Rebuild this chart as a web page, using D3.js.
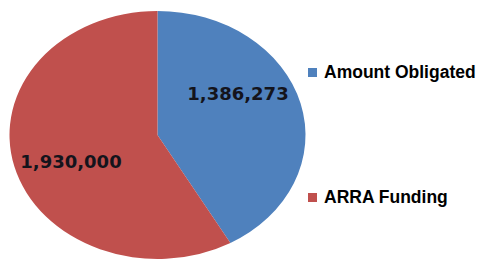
<!DOCTYPE html>
<html>
<head>
<meta charset="utf-8">
<script src="https://cdn.jsdelivr.net/npm/d3@7"></script>
<style>
  body { margin: 0; background: #fff; }
</style>
</head>
<body>
<script>
var categories = ["Amount Obligated", "ARRA Funding"];
var values = [1386273, 1930000];
var colors = ["#4F81BD", "#C0504D"];

var width = 477, height = 262;

var svg = d3.select("body")
    .append("svg")
    .attr("width", width)
    .attr("height", height);

// pie is drawn as circle then squashed into an ellipse like the original
var rx = 148, ry = 124;
var cx = 157.5, cy = 135;

var pie = d3.pie().sort(null).value(function (d) { return d; });
var arc = d3.arc().innerRadius(0).outerRadius(rx);
var arcs = pie(values);

var g = svg.append("g")
    .attr("transform", "translate(" + cx + "," + cy + ") scale(1," + (ry / rx) + ")");

g.selectAll("path")
    .data(arcs)
    .enter().append("path")
    .attr("d", arc)
    .style("fill", function (d, i) { return colors[i]; });

// value labels
var fmt = d3.format(",");
svg.selectAll("text.val")
    .data(arcs)
    .enter().append("text")
    .attr("class", "val")
    .attr("x", function (d, i) { return i == 0 ? 238 : 71; })
    .attr("y", function (d, i) { return i == 0 ? 100 : 168; })
    .attr("text-anchor", "middle")
    .style("font-family", "DejaVu Sans")
    .style("font-weight", "bold")
    .style("font-size", "18px")
    .style("fill", "#14141c")
    .text(function (d) { return fmt(d.value); });

// legend
var legendY = [72, 197];
var legend = svg.selectAll("g.legend")
    .data(categories)
    .enter().append("g")
    .attr("class", "legend")
    .attr("transform", function (d, i) { return "translate(308," + legendY[i] + ")"; });

legend.append("rect")
    .attr("x", 0)
    .attr("y", -4)
    .attr("width", 9)
    .attr("height", 9)
    .style("fill", function (d, i) { return colors[i]; });

legend.append("text")
    .attr("x", 16)
    .attr("y", 6)
    .style("font-family", "Liberation Sans, Arial")
    .style("font-weight", "bold")
    .style("font-size", "17.5px")
    .style("fill", "#000")
    .text(function (d) { return d; });
</script>
</body>
</html>
